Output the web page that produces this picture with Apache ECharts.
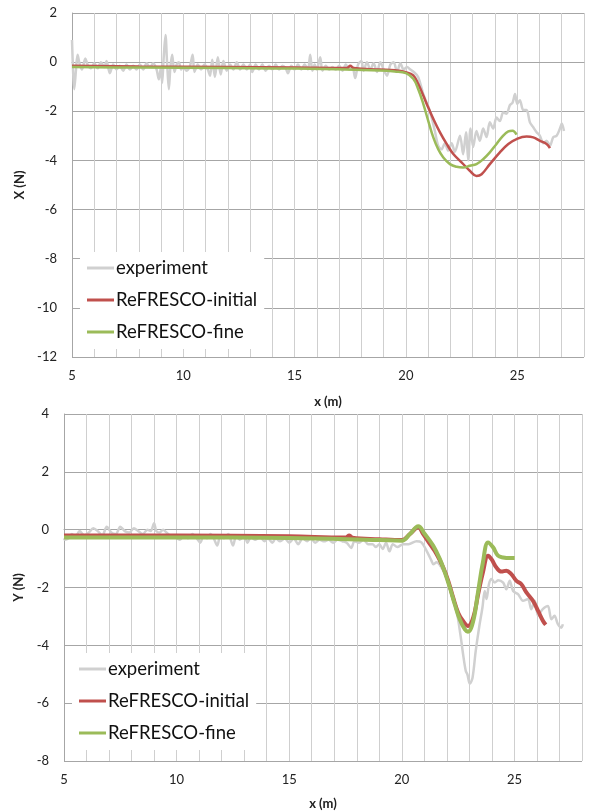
<!DOCTYPE html>
<html>
<head>
<meta charset="utf-8">
<script src="https://cdn.jsdelivr.net/npm/echarts@6/dist/echarts.min.js"></script>
<style>
  html, body { margin: 0; padding: 0; background: #ffffff; }
  #chart { width: 589px; height: 812px; }
</style>
</head>
<body>
<div id="chart"></div>
<script>
// Longitudinal force X (N) against position x (m)
const xExperiment = [
  [5.0,0.9],[5.05,-0.4],[5.1,-1.1],[5.18,-0.3],[5.25,0.3],[5.35,-0.1],[5.45,-0.3],[5.6,0.15],[5.7,-0.1],[5.85,-0.25],
  [6.0,-0.05],[6.15,-0.25],[6.3,0.0],[6.45,-0.2],[6.55,0.05],[6.7,-0.45],[6.85,-0.1],[7.0,-0.3],[7.15,-0.15],[7.3,-0.35],
  [7.45,-0.1],[7.6,-0.3],[7.75,-0.15],[7.9,-0.3],[8.05,-0.1],[8.2,-0.3],[8.35,-0.05],[8.5,-0.2],[8.65,-0.05],[8.8,-0.3],
  [8.9,-0.7],[9.0,-0.2],[9.05,-0.85],[9.12,0.2],[9.2,1.1],[9.27,0.0],[9.35,-1.1],[9.42,-0.2],[9.5,0.3],[9.6,-0.4],
  [9.7,-0.1],[9.8,0.0],[9.9,-0.3],[10.0,-0.2],[10.15,-0.35],[10.3,-0.15],[10.42,0.3],[10.5,-0.4],[10.65,-0.1],[10.8,-0.3],
  [10.95,-0.1],[11.1,-0.3],[11.2,-0.55],[11.3,0.1],[11.42,-0.6],[11.55,0.2],[11.68,-0.5],[11.8,0.05],[11.95,-0.35],[12.1,-0.1],
  [12.25,-0.3],[12.4,0.0],[12.55,-0.3],[12.7,-0.1],[12.85,-0.3],[13.0,-0.1],[13.1,-0.4],[13.25,-0.1],[13.4,-0.3],[13.55,-0.1],
  [13.7,-0.35],[13.85,-0.15],[14.0,-0.3],[14.15,-0.1],[14.3,-0.3],[14.45,-0.15],[14.6,-0.25],[14.7,-0.45],[14.85,-0.15],[15.0,-0.3],
  [15.15,-0.1],[15.3,-0.3],[15.45,-0.1],[15.6,-0.3],[15.7,0.3],[15.8,-0.35],[15.9,-0.1],[16.0,-0.3],[16.15,0.2],[16.25,-0.35],
  [16.4,-0.15],[16.55,-0.3],[16.7,-0.2],[16.85,-0.3],[17.0,-0.15],[17.15,-0.35],[17.3,-0.1],[17.45,-0.3],[17.6,-0.2],[17.72,-0.65],
  [17.85,-0.1],[18.0,0.05],[18.1,-0.35],[18.25,0.0],[18.4,-0.3],[18.55,-0.05],[18.7,-0.4],[18.85,0.0],[19.0,-0.3],[19.15,-0.55],
  [19.3,-0.1],[19.45,0.0],[19.6,-0.4],[19.75,-0.05],[19.9,-0.3],[20.05,-0.2],[20.2,-0.3],[20.35,-0.4],[20.55,-0.6],[20.78,-1.3],
  [21.08,-2.0],[21.3,-2.8],[21.45,-3.4],[21.6,-3.55],[21.75,-3.3],[21.9,-3.6],[22.05,-3.3],[22.2,-3.65],[22.43,-3.0],[22.57,-3.75],
  [22.7,-2.85],[22.8,-4.0],[22.9,-2.7],[23.02,-3.45],[23.17,-2.8],[23.32,-3.2],[23.47,-2.7],[23.62,-3.05],[23.77,-2.45],[23.92,-2.7],
  [24.07,-2.25],[24.22,-2.4],[24.37,-2.05],[24.52,-2.1],[24.67,-1.75],[24.79,-1.65],[24.9,-1.3],[25.0,-1.7],[25.12,-1.55],[25.27,-1.95],
  [25.42,-1.95],[25.57,-2.45],[25.72,-2.65],[25.87,-2.85],[26.02,-3.0],[26.17,-3.3],[26.32,-3.2],[26.47,-3.4],[26.62,-3.05],[26.77,-3.0],
  [26.92,-2.7],[27.0,-2.5],[27.1,-2.8]
];
const xInitial = [
  [5.0,-0.15],[8.0,-0.18],[12.0,-0.2],[15.0,-0.22],[17.35,-0.24],[17.5,-0.15],[17.65,-0.24],[18.83,-0.3],[19.5,-0.33],[20.0,-0.41],
  [20.33,-0.54],[20.55,-0.88],[20.78,-1.36],[21.0,-1.84],[21.23,-2.31],[21.53,-2.86],[21.83,-3.33],[22.13,-3.74],[22.5,-4.08],[22.87,-4.42],
  [23.17,-4.63],[23.4,-4.56],[23.77,-4.15],[24.22,-3.67],[24.6,-3.33],[24.97,-3.13],[25.42,-3.03],[25.72,-3.06],[26.02,-3.2],[26.32,-3.33],
  [26.47,-3.5]
];
const xFine = [
  [5.0,-0.2],[8.0,-0.22],[12.0,-0.24],[15.0,-0.26],[18.83,-0.34],[19.5,-0.38],[20.0,-0.45],[20.33,-0.68],[20.55,-1.09],[20.78,-1.7],
  [21.0,-2.38],[21.23,-3.06],[21.45,-3.54],[21.68,-3.88],[21.98,-4.15],[22.28,-4.26],[22.57,-4.29],[22.87,-4.22],[23.17,-4.15],[23.47,-3.95],
  [23.77,-3.67],[24.07,-3.33],[24.37,-2.99],[24.6,-2.82],[24.79,-2.79],[24.97,-2.95]
];

// Lateral force Y (N) against position x (m)
const yExperiment = [
  [5.0,-0.3],[5.04,-0.35],[5.2,-0.3],[5.35,-0.15],[5.5,-0.25],[5.7,-0.05],[5.9,-0.2],[6.1,-0.1],[6.3,0.05],[6.5,-0.05],
  [6.7,-0.2],[6.9,0.1],[7.1,-0.1],[7.3,-0.15],[7.5,0.1],[7.7,-0.05],[7.9,-0.1],[8.1,0.05],[8.3,-0.05],[8.5,-0.15],
  [8.7,0.0],[8.85,-0.05],[9.0,0.22],[9.1,-0.05],[9.25,-0.1],[9.4,0.0],[9.55,-0.1],[9.7,-0.2],[9.9,-0.25],[10.15,-0.35],
  [10.3,-0.2],[10.5,-0.3],[10.7,-0.15],[10.9,-0.3],[11.05,-0.45],[11.2,-0.2],[11.35,-0.3],[11.5,-0.15],[11.65,-0.3],[11.8,-0.55],
  [11.95,-0.2],[12.1,-0.3],[12.3,-0.15],[12.5,-0.55],[12.65,-0.2],[12.8,-0.35],[13.0,-0.2],[13.15,-0.45],[13.3,-0.25],[13.5,-0.35],
  [13.7,-0.25],[13.9,-0.4],[14.05,-0.3],[14.25,-0.45],[14.4,-0.3],[14.6,-0.4],[14.8,-0.3],[15.0,-0.45],[15.2,-0.3],[15.4,-0.5],
  [15.6,-0.3],[15.8,-0.4],[15.95,-0.28],[16.15,-0.45],[16.35,-0.35],[16.55,-0.4],[16.75,-0.35],[16.95,-0.45],[17.15,-0.35],[17.35,-0.4],
  [17.55,-0.45],[17.75,-0.63],[17.9,-0.4],[18.1,-0.45],[18.3,-0.35],[18.5,-0.5],[18.7,-0.5],[18.85,-0.6],[19.0,-0.5],[19.15,-0.67],
  [19.3,-0.45],[19.45,-0.75],[19.6,-0.5],[19.8,-0.6],[20.06,-0.5],[20.3,-0.5],[20.65,-0.4],[20.87,-0.44],[21.1,-0.73],[21.32,-1.08],
  [21.4,-1.2],[21.54,-1.13],[21.76,-1.31],[21.98,-1.65],[22.2,-2.23],[22.43,-2.81],[22.6,-3.62],[22.72,-4.31],[22.84,-4.89],[22.91,-5.0],
  [23.02,-5.33],[23.14,-5.12],[23.28,-4.2],[23.43,-3.39],[23.58,-2.69],[23.68,-2.12],[23.76,-2.4],[23.87,-1.88],[23.98,-1.71],[24.13,-1.83],
  [24.27,-1.75],[24.5,-1.83],[24.64,-2.06],[24.79,-1.77],[24.94,-2.12],[25.16,-2.23],[25.38,-2.46],[25.6,-2.4],[25.75,-2.75],[25.9,-2.46],
  [26.05,-2.98],[26.19,-2.81],[26.34,-2.69],[26.49,-2.64],[26.64,-3.1],[26.78,-2.98],[26.93,-3.27],[27.08,-3.39],[27.15,-3.27]
];
const yInitial = [
  [5.0,-0.2],[10.0,-0.2],[15.0,-0.23],[17.5,-0.27],[17.67,-0.2],[17.8,-0.28],[19.0,-0.33],[20.0,-0.36],[20.36,-0.15],[20.73,0.08],
  [20.95,-0.15],[21.25,-0.5],[21.54,-0.84],[21.84,-1.31],[22.06,-1.77],[22.28,-2.35],[22.5,-2.87],[22.72,-3.16],[22.94,-3.33],[23.17,-3.04],
  [23.39,-2.23],[23.6,-1.48],[23.83,-0.9],[23.98,-1.02],[24.2,-1.31],[24.42,-1.45],[24.64,-1.42],[24.86,-1.54],[25.09,-1.77],[25.3,-1.88],
  [25.53,-2.17],[25.82,-2.46],[26.05,-2.81],[26.27,-3.16],[26.39,-3.29]
];
const yFine = [
  [5.0,-0.27],[10.0,-0.27],[15.0,-0.29],[19.0,-0.36],[20.0,-0.38],[20.36,-0.15],[20.73,0.12],[21.02,-0.15],[21.39,-0.55],[21.69,-1.02],
  [21.91,-1.48],[22.13,-2.0],[22.35,-2.58],[22.57,-3.1],[22.8,-3.45],[22.94,-3.53],[23.17,-3.16],[23.39,-2.12],[23.6,-1.13],[23.83,-0.44],
  [24.05,-0.61],[24.27,-0.9],[24.5,-0.96],[24.79,-0.98],[25.01,-0.98]
];

const seriesNames = ['experiment', 'ReFRESCO-initial', 'ReFRESCO-fine'];
const seriesColors = ['#d0d0d0', '#c0504d', '#9bbb59'];
const xTicks = [5, 10, 15, 20, 25];

const FONT = 'Lato, "Open Sans", sans-serif';

function xAxisFor(gridIndex, nameGap) {
  return {
    type: 'value', gridIndex, min: 5, max: 28, interval: 1,
    name: 'x (m)', nameLocation: 'middle', nameGap,
    nameTextStyle: { fontFamily: FONT, fontSize: 13, fontWeight: 'bold', color: '#222' },
    axisLine: { show: true, lineStyle: { color: '#a6a6a6', width: 1 } },
    axisTick: { show: false },
    axisLabel: {
      margin: 12, fontFamily: FONT, fontSize: 13, color: '#222',
      formatter: v => (xTicks.indexOf(v) >= 0 ? String(v) : '')
    },
    splitLine: { show: true, lineStyle: { color: '#cfcfcf', width: 1 } }
  };
}

function yAxisFor(gridIndex, name, min, max, nameGap) {
  return {
    type: 'value', gridIndex, min, max, interval: 2,
    name, nameLocation: 'middle', nameGap, nameRotate: 90,
    nameTextStyle: { fontFamily: FONT, fontSize: 13, fontWeight: 'bold', color: '#222' },
    axisLine: { show: true, lineStyle: { color: '#a6a6a6', width: 1 } },
    axisTick: { show: false },
    axisLabel: { margin: 15, fontFamily: FONT, fontSize: 13, color: '#222' },
    splitLine: { show: true, lineStyle: { color: '#a6a6a6', width: 1 } }
  };
}

function lineSeries(idx, axisIndex, data, width, smooth) {
  return {
    name: seriesNames[idx], type: 'line',
    xAxisIndex: axisIndex, yAxisIndex: axisIndex,
    data, showSymbol: false, symbol: 'none', smooth,
    lineStyle: { color: seriesColors[idx], width },
    itemStyle: { color: seriesColors[idx] },
    animation: false, z: 2 + idx
  };
}

function legendFor(left, top) {
  return {
    left, top, orient: 'vertical',
    backgroundColor: '#ffffff',
    padding: [6, 7, 7, 7],
    itemGap: 12, itemWidth: 27, itemHeight: 3,
    icon: 'rect',
    textStyle: { fontFamily: FONT, fontSize: 18.5, color: '#111', lineHeight: 20, padding: [0, 0, 0, -3] },
    data: seriesNames.map((n, i) => ({ name: n, icon: 'rect', itemStyle: { color: seriesColors[i] } })),
    selectedMode: false
  };
}

const chart = echarts.init(document.getElementById('chart'), null, { renderer: 'canvas' });
chart.setOption({
  animation: false,
  backgroundColor: '#ffffff',
  grid: [
    { left: 72, right: 5, top: 13, height: 344, containLabel: false },
    { left: 64, right: 7, top: 414, height: 347, containLabel: false }
  ],
  xAxis: [xAxisFor(0, 38), xAxisFor(1, 36)],
  yAxis: [yAxisFor(0, 'X (N)', -12, 2, 38), yAxisFor(1, 'Y (N)', -8, 4, 31)],
  legend: [legendFor(80, 252), legendFor(72, 653)],
  series: [
    lineSeries(0, 0, xExperiment, 2.5, 0.3),
    lineSeries(1, 0, xInitial, 2.5, 0.4),
    lineSeries(2, 0, xFine, 2.5, 0.4),
    lineSeries(0, 1, yExperiment, 2.5, 0.3),
    lineSeries(1, 1, yInitial, 4, 0.4),
    lineSeries(2, 1, yFine, 4, 0.4)
  ]
});
</script>
</body>
</html>
